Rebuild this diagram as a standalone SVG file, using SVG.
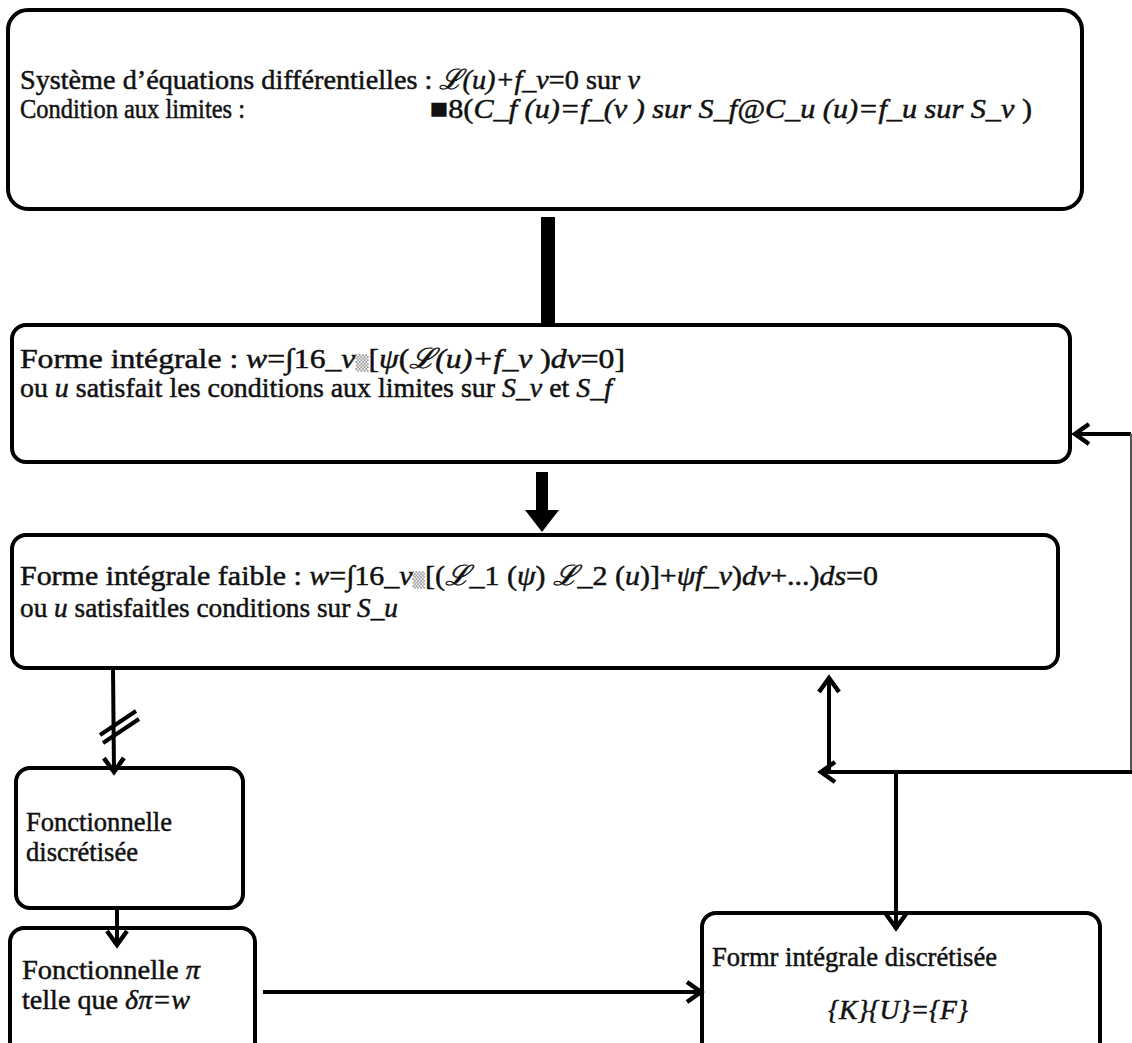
<svg xmlns="http://www.w3.org/2000/svg" width="1132" height="1043" viewBox="0 0 1132 1043">
<style>
.box{fill:#fff;stroke:#000;stroke-width:4}
.lbl{font-family:"Liberation Serif",serif;font-size:28px;fill:#111;stroke:#111;stroke-width:0.5}
.m{font-style:italic;font-family:"Liberation Serif","DejaVu Serif",serif}
.sm{font-family:"DejaVu Sans",sans-serif;font-size:15px;fill:#999;stroke:none}
.c{fill:none;stroke:#000;stroke-width:4}
</style>
<defs>
<marker id="chev" markerUnits="userSpaceOnUse" viewBox="-20 -14 24 28" markerWidth="24" markerHeight="28" refX="0" refY="0" orient="auto-start-reverse" overflow="visible">
<path d="M-14,-10 L0,0 L-14,10" fill="none" stroke="#000" stroke-width="4.5" stroke-linejoin="miter"/>
</marker>
</defs>
<rect width="1132" height="1043" fill="#fff"/>

<g id="n1">
<rect class="box" x="8" y="10" width="1074" height="199" rx="20"/>
<text class="lbl" x="20" y="89" textLength="620" lengthAdjust="spacingAndGlyphs">Système d’équations  différentielles  :  <tspan class="m">ℒ(u)+f_v</tspan>=0 sur <tspan class="m">v</tspan></text>
<text class="lbl" x="20" y="118" textLength="225" lengthAdjust="spacingAndGlyphs">Condition aux limites  :</text>
<text class="lbl" x="430" y="118" textLength="602" lengthAdjust="spacingAndGlyphs">■8(<tspan class="m">C_f (u)=f_(v )  sur S_f@C_u (u)=f_u sur S_v</tspan> )</text>
</g>

<g id="n2">
<rect class="box" x="12" y="325" width="1058" height="137" rx="14"/>
<text class="lbl" x="20" y="368" textLength="605" lengthAdjust="spacingAndGlyphs">Forme intégrale : <tspan class="m">w</tspan>=∫16_<tspan class="m">v</tspan><tspan class="sm">▒</tspan>[<tspan class="m">ψ</tspan>(<tspan class="m">ℒ(u)+f_v</tspan> )<tspan class="m">dv</tspan>=0]</text>
<text class="lbl" x="20" y="397" textLength="592" lengthAdjust="spacingAndGlyphs">ou <tspan class="m">u</tspan> satisfait les conditions  aux limites  sur  <tspan class="m">S_v</tspan> et <tspan class="m">S_f</tspan></text>
</g>

<g id="n3">
<rect class="box" x="12" y="535" width="1046" height="133" rx="14"/>
<text class="lbl" x="20" y="585" textLength="858" lengthAdjust="spacingAndGlyphs">Forme intégrale  faible : <tspan class="m">w</tspan>=∫16_<tspan class="m">v</tspan><tspan class="sm">▒</tspan>[(<tspan class="m">ℒ_</tspan>1 (<tspan class="m">ψ</tspan>)  <tspan class="m">ℒ_</tspan>2 (<tspan class="m">u</tspan>)]+<tspan class="m">ψf_v</tspan>)<tspan class="m">dv</tspan>+...)<tspan class="m">ds</tspan>=0</text>
<text class="lbl" x="20" y="617" textLength="378" lengthAdjust="spacingAndGlyphs">ou <tspan class="m">u</tspan> satisfaitles  conditions  sur <tspan class="m">S_u</tspan></text>
</g>

<g id="n4">
<rect class="box" x="16" y="768" width="227" height="140" rx="14"/>
<text class="lbl" x="26" y="831" textLength="146" lengthAdjust="spacingAndGlyphs">Fonctionnelle</text>
<text class="lbl" x="26" y="861" textLength="112" lengthAdjust="spacingAndGlyphs">discrétisée</text>
</g>

<g id="n5">
<rect class="box" x="10" y="928" width="245" height="130" rx="14"/>
<text class="lbl" x="22" y="979" textLength="178" lengthAdjust="spacingAndGlyphs">Fonctionnelle  <tspan class="m">π</tspan></text>
<text class="lbl" x="22" y="1009" textLength="168" lengthAdjust="spacingAndGlyphs">telle que <tspan class="m">δπ=w</tspan></text>
</g>

<g id="n6">
<rect class="box" x="702" y="913" width="398" height="145" rx="14"/>
<text class="lbl" x="712" y="966" textLength="285" lengthAdjust="spacingAndGlyphs">Formr intégrale  discrétisée</text>
<text class="lbl" x="828" y="1019" textLength="140" lengthAdjust="spacingAndGlyphs"><tspan class="m">{K}{U}={F}</tspan></text>
</g>

<g id="connectors">
<rect x="541" y="217" width="14" height="106" fill="#000"/>
<rect x="536" y="472" width="12" height="40" fill="#000"/>
<polygon points="525,510 559,510 542,532" fill="#000"/>
<line class="c" x1="1131" y1="434" x2="1075" y2="434" marker-end="url(#chev)"/>
<line x1="1131" y1="434" x2="1131" y2="772" stroke="#555" stroke-width="2"/>
<line class="c" x1="1132" y1="772" x2="821" y2="772" marker-end="url(#chev)"/>
<line class="c" x1="829" y1="772" x2="829" y2="678" marker-end="url(#chev)"/>
<line class="c" x1="896" y1="772" x2="896" y2="928" marker-end="url(#chev)"/>
<line class="c" x1="113" y1="668" x2="114" y2="772" marker-end="url(#chev)"/>
<line x1="100" y1="735" x2="136" y2="711" stroke="#000" stroke-width="4"/>
<line x1="103" y1="743" x2="139" y2="719" stroke="#000" stroke-width="4"/>
<line class="c" x1="117" y1="908" x2="117" y2="945" marker-end="url(#chev)"/>
<line class="c" x1="263" y1="992" x2="701" y2="992" marker-end="url(#chev)"/>
</g>
</svg>
